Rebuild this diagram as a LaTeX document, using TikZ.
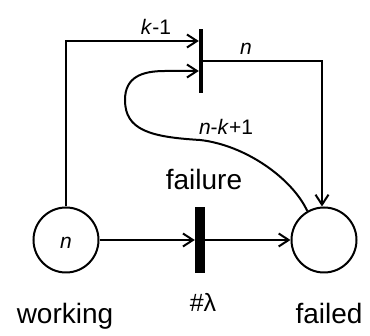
\documentclass[tikz,border=0pt]{standalone}
\usepackage{fontspec}
\setmainfont{Liberation Sans}
\usetikzlibrary{arrows.meta}
\begin{document}
\begin{tikzpicture}[x=1pt,y=-1pt,
  place/.style={draw, circle, line width=2pt, minimum size=65pt, inner sep=0pt},
  thintrans/.style={fill=black, minimum width=4pt, minimum height=64pt, inner sep=0pt},
  thicktrans/.style={fill=black, minimum width=10pt, minimum height=66pt, inner sep=0pt},
  arc/.style={line width=2pt, -{Straight Barb[length=10pt,width=13pt,line width=2pt]}},
  biglabel/.style={font=\fontsize{28}{30}\selectfont, inner sep=0pt, anchor=base},
  arclabel/.style={font=\fontsize{21}{24}\selectfont, inner sep=0pt, anchor=base}]
\useasboundingbox (0,0) rectangle (370,336);

% places and transitions
\node[place] (working) at (66,240) {};
\node[place] (failed) at (324,240) {};
\node[thicktrans] (failure) at (200,240) {};
\node[thintrans] (recover) at (201,61) {};

% tokens and labels
\node[arclabel] (tokens) at (66,249) {\textit{n}};
\node[biglabel] (lworking) at (65,324) {working};
\node[biglabel] (lfailed) at (329,324) {failed};
\node[biglabel] (lfailure) at (204,190) {failure};
\node[arclabel, font=\fontsize{25}{28}\selectfont] (lrate) at (203,312) {\#λ};
\node[arclabel] (lkm1) at (156,35) {\textit{k}-1};
\node[arclabel] (ln) at (246,55) {\textit{n}};
\node[arclabel] (lnk1) at (226,135) {\textit{n}-\textit{k}+1};

% arcs of the net
\draw[arc] (working.east) -- (failure.west);
\draw[arc] (failure.east) -- (failed.west);
\draw[arc] (working.north) |- (recover.west |- 0,41);
\draw[arc] (recover.east |- 0,61) -| (failed.north -| 322,0);
\draw[arc] (failed.120) .. controls (292,178) and (245,145) .. (200,140)
  .. controls (150,137) and (125,130) .. (125,100)
  .. controls (125,77) and (142,71) .. (165,71) -- (recover.west |- 0,71);
\end{tikzpicture}
\end{document}
